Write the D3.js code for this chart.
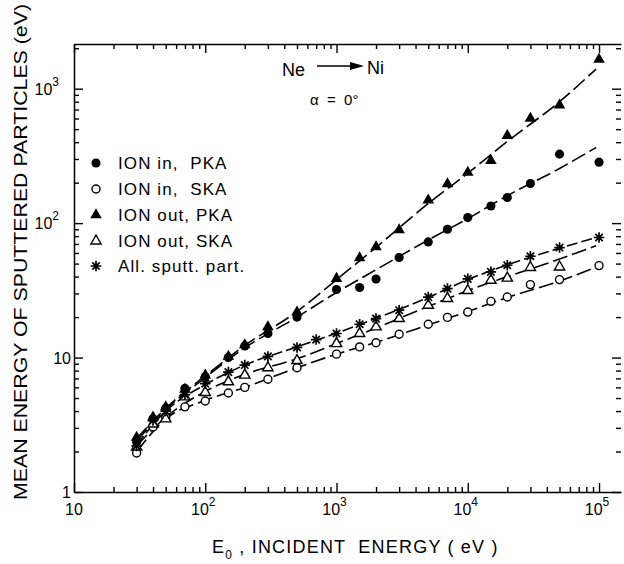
<!DOCTYPE html>
<html>
<head>
<meta charset="utf-8">
<script src="https://cdn.jsdelivr.net/npm/d3@7"></script>
<style>
  body { margin: 0; background: #fff; }
  svg { display: block; }
  text { font-family: "Liberation Sans", Arial, sans-serif; fill: #000; }
</style>
</head>
<body>
<script>
// incident energy (eV)
const energy = [30, 40, 50, 70, 100, 150, 200, 300, 500, 700, 1000, 1500, 2000, 3000, 5000, 7000, 10000, 15000, 20000, 30000, 50000, 100000]

// mean energy of sputtered particles (eV), null = no point
const ionInPka  = [2.35, 3.5, 4.2, 5.9, 7.2, 10.0, 12.2, 15.1, 20.0, null, 32.1, 33.2, 38.4, 55.5, 72.5, 90, 110, 134, 155, 197, 326, 284]
const ionInSka  = [1.95, 3.05, 3.6, 4.3, 4.75, 5.45, 6.0, 6.9, 8.4, null, 10.6, 12.0, 12.9, 14.9, 17.7, 19.9, 21.8, 26.2, 28.2, 34.9, 38.0, 48.3]
const ionOutPka = [2.55, 3.6, 4.3, 5.8, 7.4, 10.2, 12.4, 16.9, 21.8, null, 38.7, 55, 66.5, 89, 148, 196, 238, 292, 448, 600, 754, 1650]
const ionOutSka = [2.16, 3.2, 3.5, 5.1, 5.5, 6.6, 7.4, 8.4, 9.5, null, 12.7, 15.1, 16.9, 19.5, 24.5, 27.5, 31.5, 37.6, 39.0, 46.8, 47.2, null]
const allSputt  = [2.2, 3.4, 4.0, 5.3, 6.4, 7.8, 8.8, 10.2, 11.9, 13.6, 15.1, 17.7, 19.5, 22.5, 28.2, 32.6, 38.5, 43.4, 48.6, 56.7, 65.8, 78.2]

// dashed fit curves
const fitEnergy    = [30, 50, 100, 200, 500, 1000, 2000, 5000, 10000, 20000, 50000, 95000]
const fitIonInPka  = [2.4, 4.1, 7.1, 11.8, 20, 30.5, 45, 75, 108, 160, 255, 365]
const fitIonInSka  = [2.0, 3.5, 4.8, 6.0, 8.4, 10.6, 13.0, 17.5, 22, 28, 37, 47]
const fitIonOutPka = [2.5, 4.2, 7.3, 12.3, 22, 38, 66, 140, 235, 405, 800, 1400]
const fitIonOutSka = [2.2, 3.6, 5.6, 7.5, 9.8, 12.7, 16.6, 24, 31.5, 40, 54, 68]
const fitAllSputt  = [2.25, 4.0, 6.3, 8.8, 12, 15.2, 19.6, 28, 38, 49, 65, 78]

const legendLabels = ["ION in,  PKA", "ION in,  SKA", "ION out, PKA", "ION out, SKA", "All. sputt. part."]
const xTickValues = [10, 100, 1000, 10000, 100000]
const xTickExp = ["", "2", "3", "4", "5"]
const yTickValues = [1, 10, 100, 1000]
const yTickBase = ["1", "10", "10", "10"]
const yTickExp = ["", "", "2", "3"]

const W = 624, H = 564
const mLeft = 74, mRight = 621, mTop = 44, mBottom = 492

const svg = d3.select("body").append("svg")
    .attr("width", W)
    .attr("height", H)

const x = d3.scaleLog().domain([10, 1.47e5]).range([mLeft, mRight])
const y = d3.scaleLog().domain([1, 2150]).range([mBottom, mTop])

const isMajor = v => Math.abs(Math.log10(v) - Math.round(Math.log10(v))) < 1e-9

// axes: all ticks point inward
function styleAxis(g, dir) {
    g.select(".domain").attr("stroke", "#000").attr("stroke-width", 1.5)
    g.selectAll(".tick line")
        .attr("stroke", "#000")
        .attr("stroke-width", 1.4)
        .each(function(d) {
            const len = isMajor(d) ? 9 : 5
            const el = d3.select(this)
            if (dir == "bottom") el.attr("y2", -len)
            if (dir == "top") el.attr("y2", len)
            if (dir == "left") el.attr("x2", len)
            if (dir == "right") el.attr("x2", -len)
        })
    g.selectAll(".tick text").remove()
}

const gBottom = svg.append("g")
    .attr("transform", `translate(0,${mBottom})`)
    .call(d3.axisBottom(x).tickValues(x.ticks()).tickSizeOuter(0))
styleAxis(gBottom, "bottom")

const gTop = svg.append("g")
    .attr("transform", `translate(0,${mTop})`)
    .call(d3.axisTop(x).tickValues(x.ticks()).tickSizeOuter(0))
styleAxis(gTop, "top")

const gLeft = svg.append("g")
    .attr("transform", `translate(${mLeft},0)`)
    .call(d3.axisLeft(y).tickValues(y.ticks()).tickSizeOuter(0))
styleAxis(gLeft, "left")

const gRight = svg.append("g")
    .attr("transform", `translate(${mRight},0)`)
    .call(d3.axisRight(y).tickValues(y.ticks()).tickSizeOuter(0))
styleAxis(gRight, "right")
gRight.select(".domain").remove()

// tick labels with superscripts
xTickValues.forEach((v, i) => {
    const t = svg.append("text")
        .attr("x", x(v) + (xTickExp[i] ? -2 : 0))
        .attr("y", 515)
        .attr("text-anchor", "middle")
        .style("font-size", "16px")
    t.append("tspan").text("10")
    if (xTickExp[i]) t.append("tspan").attr("dy", -9).style("font-size", "12px").text(xTickExp[i])
})

yTickValues.forEach((v, i) => {
    const t = svg.append("text")
        .attr("x", yTickExp[i] ? 59 : 71)
        .attr("y", y(v) + 6)
        .attr("text-anchor", "end")
        .style("font-size", "16px")
    t.append("tspan").text(yTickBase[i])
    if (yTickExp[i]) t.append("tspan").attr("dy", -9).style("font-size", "12px").text(yTickExp[i])
})

// axis titles
svg.append("text")
    .attr("transform", `translate(27,252) rotate(-90)`)
    .attr("text-anchor", "middle")
    .attr("textLength", 496)
    .attr("lengthAdjust", "spacingAndGlyphs")
    .style("font-size", "19px")
    .text("MEAN ENERGY OF SPUTTERED PARTICLES (eV)")

const xt = svg.append("text")
    .attr("x", 212)
    .attr("y", 553)
    .style("font-size", "18px")
    .style("letter-spacing", "1.2px")
    .style("white-space", "pre")
xt.append("tspan").text("E")
xt.append("tspan").attr("dy", 6).style("font-size", "12px").text("0")
xt.append("tspan").attr("dy", -6).text(" , INCIDENT  ENERGY ( eV )")

// annotation
svg.append("text").attr("x", 282).attr("y", 76).style("font-size", "18px").text("Ne")
svg.append("line")
    .attr("x1", 317).attr("x2", 352).attr("y1", 66).attr("y2", 66)
    .attr("stroke", "#000").attr("stroke-width", 1.5)
svg.append("path")
    .attr("d", "M350,62 L364,66 L350,70 Z")
    .attr("fill", "#000")
svg.append("text").attr("x", 367).attr("y", 74).style("font-size", "18px").text("Ni")
svg.append("text")
    .attr("x", 310).attr("y", 105)
    .style("font-size", "15px")
    .style("white-space", "pre")
    .text("α  =  0°")

// markers
const star8 = {
    draw(ctx, size) {
        const r = Math.sqrt(size) / 2
        for (let k = 0; k < 4; k++) {
            const a = k * Math.PI / 4
            ctx.moveTo(-r * Math.cos(a), -r * Math.sin(a))
            ctx.lineTo(r * Math.cos(a), r * Math.sin(a))
        }
    }
}

const series = [
    { vals: ionInPka,  fit: fitIonInPka,  type: d3.symbolCircle,   size: 66, filled: true,  dash: "15,5" },
    { vals: ionInSka,  fit: fitIonInSka,  type: d3.symbolCircle,   size: 50, filled: false, dash: "15,5" },
    { vals: ionOutPka, fit: fitIonOutPka, type: d3.symbolTriangle, size: 58, filled: true,  dash: "15,5" },
    { vals: ionOutSka, fit: fitIonOutSka, type: d3.symbolTriangle, size: 46, filled: false, dash: "15,5" },
    { vals: allSputt,  fit: fitAllSputt,  type: star8,             size: 110, filled: null, dash: "11,4" }
]

const line = d3.line()
    .x(d => x(d[0]))
    .y(d => y(d[1]))
    .curve(d3.curveMonotoneX)

series.forEach(s => {
    svg.append("path")
        .datum(fitEnergy.map((e, i) => [e, s.fit[i]]))
        .attr("d", line)
        .attr("fill", "none")
        .attr("stroke", "#000")
        .attr("stroke-width", 1.6)
        .attr("stroke-dasharray", s.dash)
})

function drawMarker(sel, s) {
    sel.attr("d", d3.symbol().type(s.type).size(s.size))
    if (s.filled === true) sel.attr("fill", "#000").attr("stroke", "none")
    else if (s.filled === false) sel.attr("fill", "#fff").attr("stroke", "#000").attr("stroke-width", 1.4)
    else sel.attr("fill", "none").attr("stroke", "#000").attr("stroke-width", 1.7)
}

series.forEach(s => {
    const pts = energy.map((e, i) => [e, s.vals[i]]).filter(d => d[1] != null)
    svg.append("g").selectAll("path")
        .data(pts)
        .join("path")
        .attr("transform", d => `translate(${x(d[0])},${y(d[1])})`)
        .call(drawMarker, s)
})

// legend
const legendY = [163, 189, 215, 241, 266]
series.forEach((s, i) => {
    svg.append("path")
        .attr("transform", `translate(96,${legendY[i]})`)
        .call(drawMarker, s)
    svg.append("text")
        .attr("x", 118)
        .attr("y", legendY[i] + 6)
        .style("font-size", "17px")
        .style("letter-spacing", "1.1px")
        .style("white-space", "pre")
        .text(legendLabels[i])
})
</script>
</body>
</html>
